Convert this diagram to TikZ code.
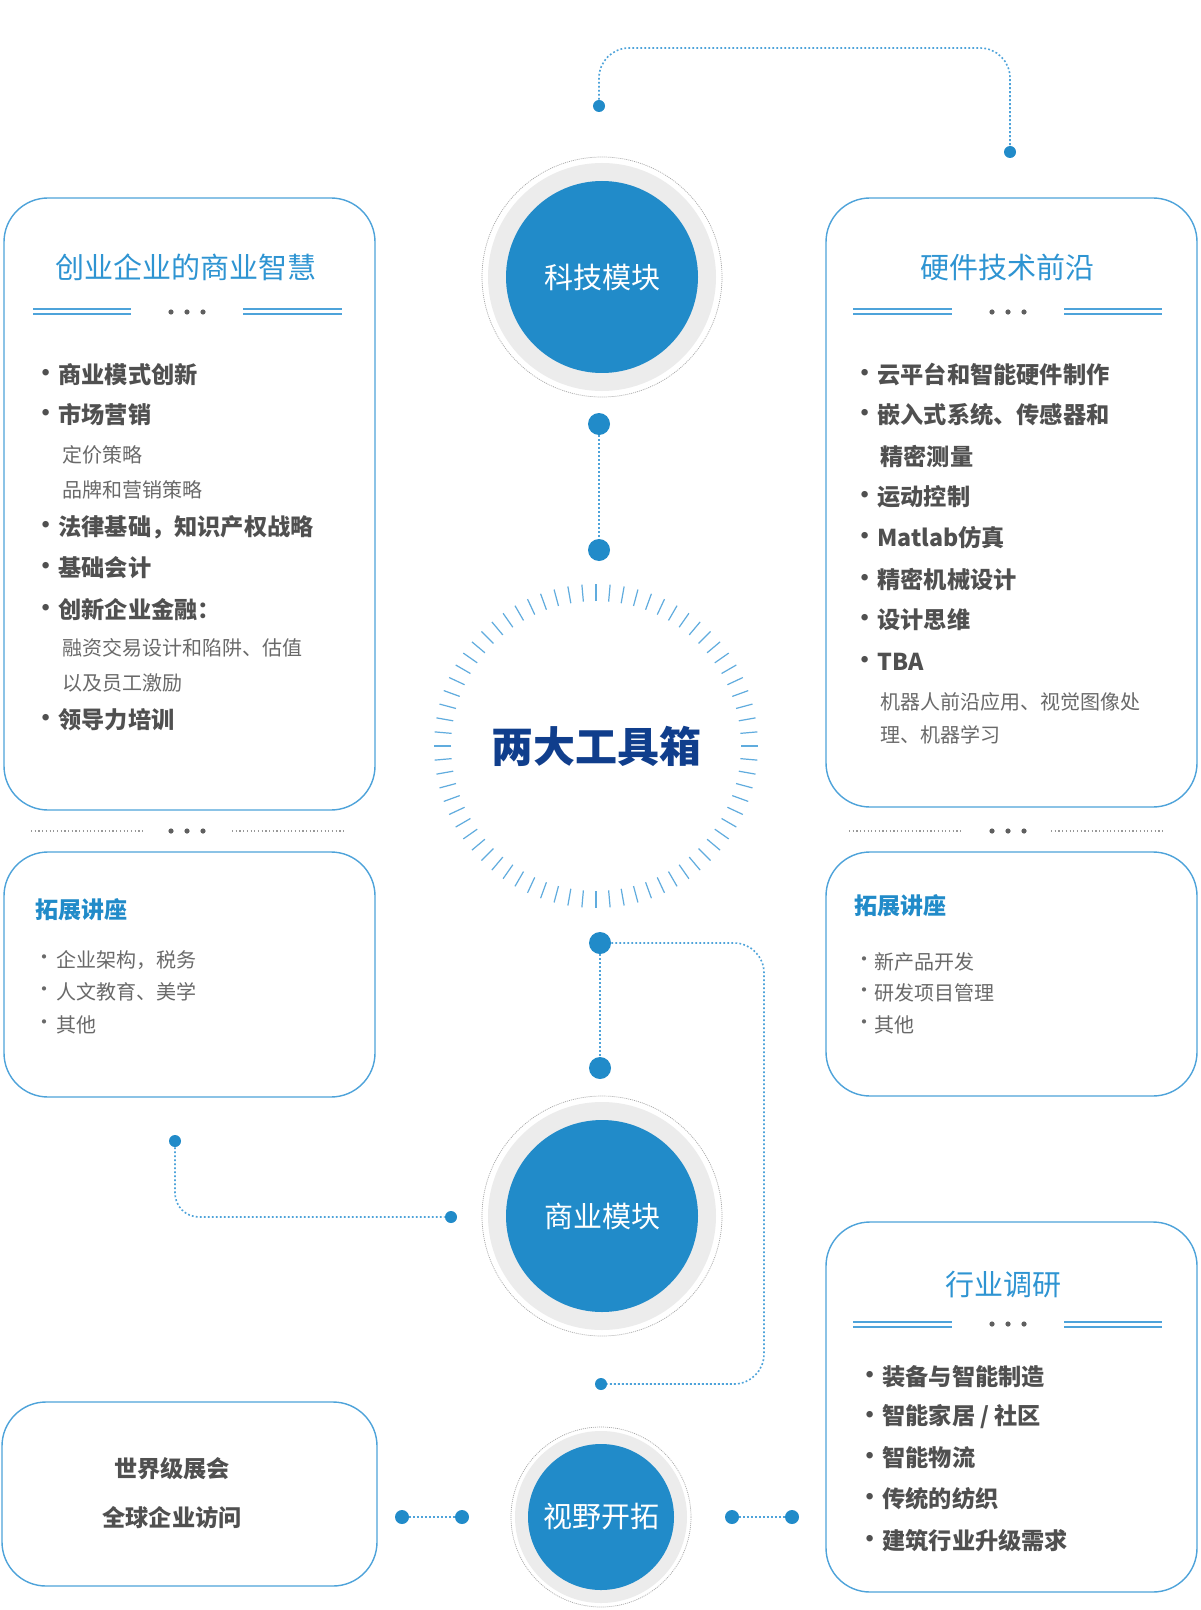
\documentclass[tikz,border=0pt]{standalone}
\usepackage{fontspec}
\setmainfont{Noto Sans CJK SC}
\usetikzlibrary{calc}
\definecolor{cblue}{RGB}{33,139,201}
\definecolor{lblue}{RGB}{78,163,218}
\definecolor{tblue}{RGB}{46,148,210}
\definecolor{navy}{RGB}{16,62,140}
\definecolor{dtxt}{RGB}{80,80,80}
\definecolor{ltxt}{RGB}{105,105,105}
\definecolor{ringc}{RGB}{236,236,236}
\definecolor{dotg}{RGB}{95,95,95}
\tikzset{
  box/.style={draw=lblue, line width=0.7pt, rounded corners=22pt},
  ttl/.style={font=\fontsize{14.5}{17}\selectfont, text=tblue, inner sep=0pt},
  bi/.style={font=\fontsize{11.6}{14}\selectfont\bfseries, text=dtxt, inner sep=0pt, anchor=west},
  si/.style={font=\fontsize{10}{12}\selectfont, text=ltxt, inner sep=0pt, anchor=west},
  bul/.style={font=\fontsize{11.6}{14}\selectfont\bfseries, text=dtxt, inner sep=0pt},
  sbul/.style={font=\fontsize{10}{12}\selectfont, text=ltxt, inner sep=0pt},
  lect/.style={font=\fontsize{11.5}{14}\selectfont\bfseries, text=cblue, inner sep=0pt, anchor=west},
  ctext/.style={font=\fontsize{11.6}{14}\selectfont\bfseries, text=dtxt, inner sep=0pt},
  dline/.style={draw=lblue, line width=0.65pt},
  sepline/.style={draw=gray!80, line width=0.6pt, dash pattern=on 0.6pt off 1.25pt},
  conn/.style={draw=lblue, line width=0.8pt, dash pattern=on 0.9pt off 1.1pt},
  cdot/.style={draw=gray!70, line width=0.35pt, dash pattern=on 0.5pt off 0.5pt},
  tickm/.style={draw=lblue!90, line width=0.6pt},
  bigdot/.style={circle, fill=cblue, inner sep=0pt, minimum size=11pt},
  smalldot/.style={circle, fill=cblue, inner sep=0pt, minimum size=6pt},
  middot/.style={circle, fill=cblue, inner sep=0pt, minimum size=7pt},
  mainc/.style={circle, fill=cblue, inner sep=0pt, text=white, font=\fontsize{14.5}{17}\selectfont},
}
\begin{document}
\begin{tikzpicture}[x=0.5pt,y=-0.5pt]
\fill[white] (0,0) rectangle (1200,1610);
\useasboundingbox (0,0) rectangle (1200,1610);

% ---------- boxes ----------
\draw[box] (4,198) rectangle (375,810);
\draw[box] (4,852) rectangle (375,1097);
\draw[box] (826,198) rectangle (1197,807);
\draw[box] (826,852) rectangle (1197,1096);
\draw[box] (826,1222) rectangle (1197,1592);
\draw[box] (2,1402) rectangle (377,1586);

% ---------- titles with double lines ----------
\node[ttl] (tl) at (186,267) {创业企业的商业智慧};
\node[ttl] (tr) at (1007,267) {硬件技术前沿};
\node[ttl] (tb) at (1003,1285) {行业调研};
\foreach \y in {309,314} {
  \draw[dline] (33,\y) -- (131,\y);
  \draw[dline] (243,\y) -- (342,\y);
  \draw[dline] (853,\y) -- (952,\y);
  \draw[dline] (1064,\y) -- (1162,\y);
}
\foreach \y in {1322,1327} {
  \draw[dline] (853,\y) -- (952,\y);
  \draw[dline] (1064,\y) -- (1162,\y);
}
\foreach \x in {171,187,203} {
  \fill[dotg] (\x,312) circle[radius=2.6];
  \fill[dotg] (\x,831) circle[radius=2.6];
}
\foreach \x in {992,1008,1024} {
  \fill[dotg] (\x,312) circle[radius=2.6];
  \fill[dotg] (\x,831) circle[radius=2.6];
  \fill[dotg] (\x,1324) circle[radius=2.6];
}
% separators
\draw[sepline] (31,831) -- (144,831);
\draw[sepline] (232,831) -- (345,831);
\draw[sepline] (849,831) -- (963,831);
\draw[sepline] (1051,831) -- (1164,831);

% ---------- left top list ----------
\foreach \y/\t [count=\i] in {375/商业模式创新,415/市场营销,527/法律基础，知识产权战略,568/基础会计,610/创新企业金融：,720/领导力培训} {
  \node[bul] (lb\i) at (46,\y) {·};
  \node[bi] (lt\i) at (58,\y) {\t};
}
\foreach \y/\t [count=\i] in {455/定价策略,490/品牌和营销策略,648/融资交易设计和陷阱、估值,683/以及员工激励} {
  \node[si] (ls\i) at (62,\y) {\t};
}

% ---------- right top list ----------
\foreach \y/\t [count=\i] in {375/云平台和智能硬件制作,415/嵌入式系统、传感器和,497/运动控制,538/Matlab仿真,580/精密机械设计,620/设计思维,662/TBA} {
  \node[bul] (rb\i) at (865,\y) {·};
  \node[bi] (rt\i) at (877,\y) {\t};
}
\node[bi] (rt0) at (880,457) {精密测量};
\node[si] (rs1) at (880,702) {机器人前沿应用、视觉图像处};
\node[si] (rs2) at (880,735) {理、机器学习};

% ---------- lecture boxes ----------
\node[lect] (lectl) at (35,910) {拓展讲座};
\foreach \y/\t [count=\i] in {960/企业架构，税务,992/人文教育、美学,1025/其他} {
  \node[sbul] (llb\i) at (44,\y) {·};
  \node[si] (llt\i) at (56,\y) {\t};
}
\node[lect] (lectr) at (854,906) {拓展讲座};
\foreach \y/\t [count=\i] in {962/新产品开发,993/研发项目管理,1025/其他} {
  \node[sbul] (lrb\i) at (864,\y) {•};
  \node[si] (lrt\i) at (874,\y) {\t};
}

% ---------- industry list ----------
\foreach \y/\t [count=\i] in {1377/{装备与智能制造},1417/{智能家居 / 社区},1458/{智能物流},1499/{传统的纺织},1541/{建筑行业升级需求}} {
  \node[bul] (ib\i) at (870,\y) {·};
  \node[bi] (it\i) at (882,\y) {\t};
}

% ---------- bottom-left box ----------
\node[ctext] (expo) at (172,1469) {世界级展会};
\node[ctext] (visit) at (172,1518) {全球企业访问};

% ---------- main circles ----------
\coordinate (ctech) at (602,277);
\draw[cdot] (ctech) circle[radius=120];
\fill[ringc] (ctech) circle[radius=114];
\node[mainc, minimum size=96pt] (tech) at (ctech) {科技模块};

\coordinate (cbiz) at (602,1216);
\draw[cdot] (cbiz) circle[radius=120];
\fill[ringc] (cbiz) circle[radius=114];
\node[mainc, minimum size=96pt] (biz) at (cbiz) {商业模块};

\coordinate (cview) at (601,1517);
\draw[cdot] (cview) circle[radius=90];
\fill[ringc] (cview) circle[radius=86];
\node[mainc, minimum size=73pt] (view) at (cview) {视野开拓};

% ---------- tick circle ----------
\coordinate (tc) at (596,746);
\foreach \a in {0,5,...,355}
  \draw[tickm] ($(tc)+(\a:145)$) -- ($(tc)+(\a:162)$);
\node[font=\fontsize{21}{24}\selectfont\bfseries, text=navy, inner sep=0pt] (tool) at (tc) {两大工具箱};

% ---------- connector dots ----------
\node[smalldot] (t1) at (599,106) {};
\node[smalldot] (t2) at (1010,152) {};
\node[bigdot] (d1) at (599,424) {};
\node[bigdot] (d2) at (599,550) {};
\node[bigdot] (d3) at (600,943) {};
\node[bigdot] (d4) at (600,1068) {};
\node[smalldot] (d5) at (601,1384) {};
\node[smalldot] (l1) at (175,1141) {};
\node[smalldot] (l2) at (451,1217) {};
\node[middot] (b1) at (402,1517) {};
\node[middot] (b2) at (462,1517) {};
\node[middot] (b3) at (732,1517) {};
\node[middot] (b4) at (792,1517) {};

\coordinate (topy) at (0,48);
\coordinate (rx) at (764,0);

% ---------- connectors ----------
\draw[conn, rounded corners=15pt] (t1) -- (t1 |- topy) -- (t2 |- topy) -- (t2);
\draw[conn] (d1) -- (d2);
\draw[conn] (d3) -- (d4);
\draw[conn, rounded corners=15pt] (d3) -- (rx |- d3) -- (rx |- d5) -- (d5);
\draw[conn, rounded corners=12pt] (l1) |- (l2);
\draw[conn] (b1) -- (b2);
\draw[conn] (b3) -- (b4);
\end{tikzpicture}
\end{document}
